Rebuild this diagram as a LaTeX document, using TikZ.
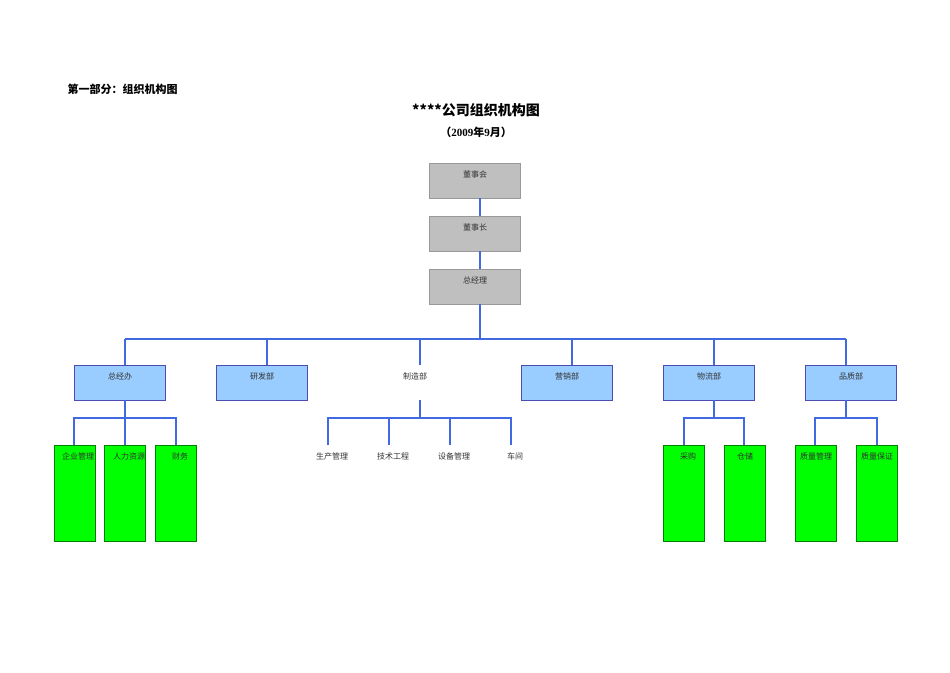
\documentclass[tikz,border=0pt]{standalone}
\usepackage{fontspec}
\setmainfont{Liberation Serif}
\newfontfamily\cjk{Noto Sans CJK SC}
\begin{document}
\begin{tikzpicture}[x=1pt,y=-1pt,
  gbox/.style={draw=gray!80,fill=gray!50,minimum width=91pt,minimum height=35pt,inner sep=0pt},
  dbox/.style={draw=blue!30!gray,fill=cyan!10!blue!30!white,fill=blue!40!cyan!40,minimum width=91pt,minimum height=35pt,inner sep=0pt},
  grn/.style={draw=green!50!black,fill=green,minimum width=41pt,minimum height=96pt,inner sep=0pt},
  lab/.style={font=\cjk\fontsize{8}{9}\selectfont,text=black!80},
  ln/.style={draw={rgb,255:red,65;green,105;blue,225},line width=2pt}]
\definecolor{dblue}{RGB}{153,204,255}
\useasboundingbox (0,0) rectangle (950,672);
\node[font=\cjk\bfseries\fontsize{11}{13}\selectfont,anchor=west] (p) at (64,89) {第一部分：组织机构图};
\node[font=\cjk\bfseries\fontsize{14}{16}\selectfont] (t) at (476,110) {****公司组织机构图};
\node[font=\bfseries\fontsize{11}{13}\selectfont] (d) at (476,132) {{\cjk （}2009{\cjk 年}9{\cjk 月）}};
\node[gbox] (a) at (475,180.5) {}; \node[lab] at (475,174) {董事会};
\node[gbox] (b) at (475,233.5) {}; \node[lab] at (475,227) {董事长};
\node[gbox] (c) at (475,286.5) {}; \node[lab] at (475,280) {总经理};
\draw[ln] (480,198) -- (480,216) (480,251) -- (480,269) (480,304) -- (480,339);
\draw[ln] (125,339) -- (846,339);
\foreach \x in {125,267,420,572,714,846} \draw[ln] (\x,339) -- (\x,365);
\foreach \x/\t/\n in {120/总经办/d1,262/研发部/d2,567/营销部/d4,709/物流部/d5,851/品质部/d6}{
  \node[dbox,fill=dblue,draw=gray!60!blue] (\n) at (\x,382.5) {};
  \node[lab] at (\x,376) {\t};}
\node[lab] (d3) at (415,376) {制造部};
% 总经办
\draw[ln] (125,400) -- (125,418) (74,445) -- (74,418) -- (176,418) -- (176,445) (125,418) -- (125,445);
\foreach \x/\t in {74.5/企业管理,125/人力资源,175.5/财务}{
  \node[grn] at (\x,493) {}; }
\node[lab] at (78,456) {企业管理};
\node[lab] at (129,456) {人力资源};
\node[lab] at (180,456) {财务};
% 制造部
\draw[ln] (420,400) -- (420,418) (328,445) -- (328,418) -- (511,418) -- (511,445) (389,418) -- (389,445) (450,418) -- (450,445);
\node[lab] at (332,456) {生产管理};
\node[lab] at (393,456) {技术工程};
\node[lab] at (454,456) {设备管理};
\node[lab] at (515,456) {车间};
% 物流部
\draw[ln] (714,400) -- (714,418) (684,445) -- (684,418) -- (744,418) -- (744,445);
\node[grn] at (683.5,493) {}; \node[grn] at (744.5,493) {};
\node[lab] at (688,456) {采购}; \node[lab] at (745,456) {仓储};
% 品质部
\draw[ln] (846,400) -- (846,418) (815,445) -- (815,418) -- (877,418) -- (877,445);
\node[grn] at (815.5,493) {}; \node[grn] at (876.5,493) {};
\node[lab] at (816,456) {质量管理}; \node[lab] at (877,456) {质量保证};
\end{tikzpicture}
\end{document}
